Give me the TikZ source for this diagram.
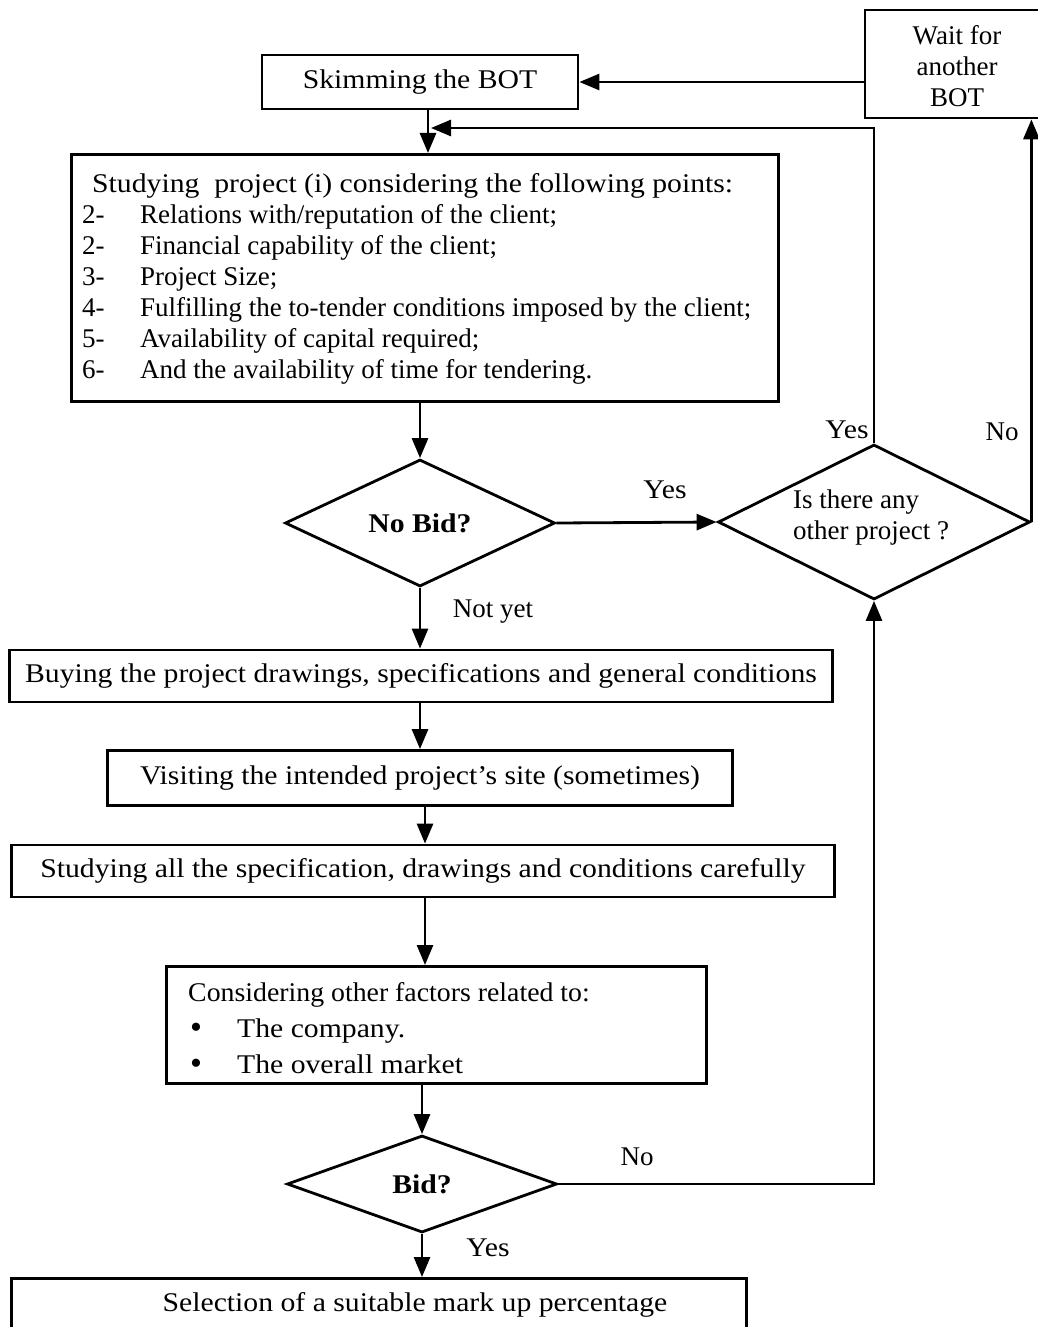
\documentclass[tikz,border=0pt]{standalone}
\usepackage{fontspec}
\setmainfont{Liberation Serif}[FakeStretch=1.1]
\newfontfamily\plainf{Liberation Serif}
\usetikzlibrary{arrows.meta,shapes.geometric}
\begin{document}
\begin{tikzpicture}[x=1pt,y=-1pt,
  every node/.style={font=\fontsize{27}{31}\selectfont},
  box/.style={draw, line width=2.8pt, inner sep=0pt},
  dia/.style={draw, diamond, line width=2.8pt, inner sep=0pt},
  arr/.style={line width=2.8pt, -{Triangle[length=20pt,width=16pt]}},
  lbl/.style={inner sep=0pt},
  plain/.style={font=\plainf\fontsize{27}{31}\selectfont}]
\useasboundingbox (0,0) rectangle (1038,1327);
\clip (0,0) rectangle (1038,1327);
% boxes
\node[box, minimum width=316pt, minimum height=54pt] (skim) at (420,82) {Skimming the BOT};
\node[box, minimum width=174pt, minimum height=108pt] (wait) at (952,64) {};
\node[lbl, plain, align=center] (waittxt) at (957,66) {Wait for\\another\\BOT};
\node[box, minimum width=707pt, minimum height=247pt, anchor=north west] (study) at (70,153) {};
\node[lbl, plain, anchor=north west, align=left] (studytxt) at (82,173) {\hspace*{10pt}{\rmfamily Studying\ \ project (i) considering the following points:}\\
\makebox[58pt][l]{2-}Relations with/reputation of the client;\\
\makebox[58pt][l]{2-}Financial capability of the client;\\
\makebox[58pt][l]{3-}Project Size;\\
\makebox[58pt][l]{4-}Fulfilling the to-tender conditions imposed by the client;\\
\makebox[58pt][l]{5-}Availability of capital required;\\
\makebox[58pt][l]{6-}And the availability of time for tendering.};
\node[dia, minimum width=270pt, minimum height=127pt, aspect=2.1] (nobid) at (420,523) {\textbf{No Bid?}};
\node[dia, minimum width=312pt, minimum height=155pt, aspect=2] (other) at (874,522) {};
\node[lbl, plain, align=left] (othertxt) at (871,518) {Is there any\\other project ?};
\node[box, minimum width=823pt, minimum height=52pt] (buy) at (421,676) {Buying the project drawings, specifications and general conditions};
\node[box, minimum width=625pt, minimum height=55pt] (visit) at (420,778) {Visiting the intended project's site (sometimes)};
\node[box, minimum width=823pt, minimum height=52pt] (studyall) at (423,871) {Studying all the specification, drawings and conditions carefully};
\node[box, minimum width=540pt, minimum height=117pt, anchor=north west] (consider) at (165,965) {};
\node[lbl, anchor=north west, align=left, font=\plainf\fontsize{27}{36}\selectfont] (considertxt) at (188,982) {{\addfontfeatures{FakeStretch=1.03}Considering other factors related to:}\\
\hspace*{2pt}\makebox[47pt][l]{\raisebox{-1pt}{\fontsize{34}{36}\selectfont\textbullet}}{\rmfamily The company.}\\
\hspace*{2pt}\makebox[47pt][l]{\raisebox{-1pt}{\fontsize{34}{36}\selectfont\textbullet}}{\rmfamily The overall market}};
\node[dia, minimum width=270pt, minimum height=97pt, aspect=2.8] (bid) at (422,1184) {\textbf{Bid?}};
\node[box, minimum width=735pt, minimum height=80pt, anchor=north west] (select) at (10,1277) {};
\node[lbl] (selecttxt) at (415,1305) {Selection of a suitable mark up percentage};
% connectors
\draw[arr] (skim.east -| wait.west) -- (skim.east);
\draw[arr] ([xshift=8pt]skim.south) -- ([xshift=8pt]skim.south |- study.north);
\coordinate (yesend) at (431,128);
\draw[arr] (other.north) |- (yesend);
\draw[arr] (other.east) -- (other.east |- wait.south);
\draw[arr] (study.south -| nobid.north) -- (nobid.north);
\draw[arr] (nobid.east) -- (other.west);
\draw[arr] (nobid.south) -- (nobid.south |- buy.north);
\draw[arr] (buy.south -| visit.north) -- (visit.north);
\draw[arr] ([xshift=5pt]visit.south) -- ([xshift=5pt]visit.south |- studyall.north);
\draw[arr] ([xshift=2pt]studyall.south) -- ([xshift=2pt]studyall.south |- consider.north);
\draw[arr] (consider.south -| bid.north) -- (bid.north);
\draw[arr] (bid.south) -- (bid.south |- select.north);
\draw[arr] (bid.east) -| (other.south);
% labels
\node[lbl] (l1) at (665,490) {Yes};
\node[lbl] (l2) at (847,430) {Yes};
\node[lbl, plain] (l3) at (1002,432) {No};
\node[lbl, plain] (l4) at (493,612) {Not yet};
\node[lbl, plain] (l5) at (637,1157) {No};
\node[lbl] (l6) at (488,1248) {Yes};
\end{tikzpicture}
\end{document}
